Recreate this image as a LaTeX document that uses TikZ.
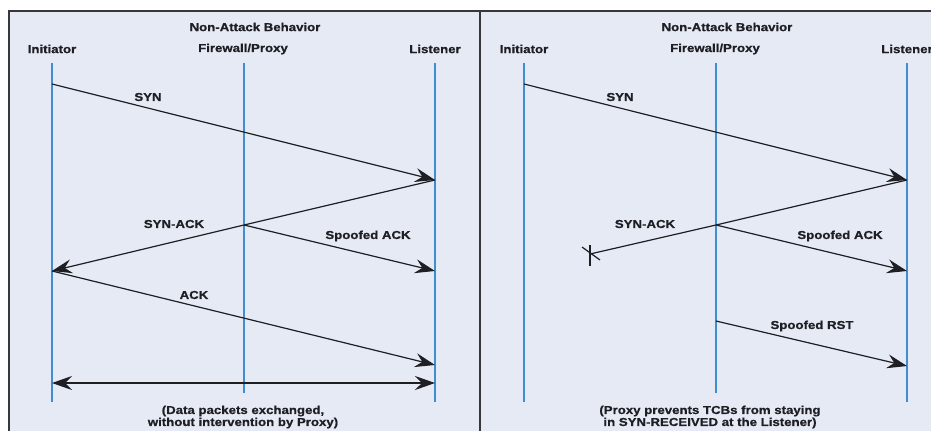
\documentclass[tikz,border=0pt]{standalone}
\usepackage{fontspec}
\setmainfont{Liberation Sans}[FakeStretch=1.15, BoldFeatures={FakeBold=0.7}]
\usetikzlibrary{arrows.meta}

\definecolor{panelbg}{RGB}{229,234,245}
\definecolor{lifeblue}{RGB}{62,142,208}
\definecolor{framegray}{RGB}{55,55,60}
\definecolor{inkgray}{RGB}{30,30,35}

\begin{document}
\begin{tikzpicture}[
    x=1pt, y=-1pt,
    >={Stealth[length=20pt,width=14pt,inset=7pt]},
    every node/.style={font=\fontsize{11.5}{12}\selectfont\bfseries, text=inkgray, inner sep=0pt},
    caption/.style={align=center},
    lifeline/.style={draw=lifeblue, line width=2pt},
    frame/.style={draw=framegray, line width=1.4pt},
    msg/.style={->, draw=inkgray, line width=1.2pt},
    dmsg/.style={<->, draw=inkgray, line width=1.2pt},
    lost/.style={draw=inkgray, line width=1.2pt}
]

\useasboundingbox (0,0) rectangle (931,431);
\clip (0,0) rectangle (931,431);

% --- Background and frame ---
\fill[panelbg] (9,11) rectangle (940,431);
\draw[frame] (9,431) -- (9,11) -- (940,11);
\draw[frame] (480,11) -- (480,431);

% --- Headings and lifelines of both panels ---
\foreach \p/\dx in {L/0, R/472} {
    \node (title\p) at (255+\dx,27) {Non-Attack Behavior};
    \node (ini\p) at (52+\dx,49) {Initiator};
    \node (fw\p) at (243+\dx,49) {Firewall/Proxy};
    \node (lis\p) at (435+\dx,49) {Listener};
    \coordinate (ini\p top) at (52+\dx,63);
    \coordinate (ini\p bot) at (52+\dx,402);
    \coordinate (fw\p top) at (244+\dx,63);
    \coordinate (fw\p bot) at (244+\dx,393);
    \coordinate (lis\p top) at (435+\dx,63);
    \coordinate (lis\p bot) at (435+\dx,402);
    \draw[lifeline] (ini\p top) -- (ini\p bot);
    \draw[lifeline] (fw\p top) -- (fw\p bot);
    \draw[lifeline] (lis\p top) -- (lis\p bot);
}

% --- Left panel: events ---
\coordinate (synL) at (52,84);
\coordinate (synackL) at (435,180);
\coordinate (proxyL) at (244,225);
\coordinate (backL) at (52,271);
\coordinate (sackL) at (435,271);
\coordinate (ackL) at (435,365);
\coordinate (dataLa) at (52,383);
\coordinate (dataLb) at (435,383);

\draw[msg] (synL) -- (synackL);
\draw[msg] (synackL) -- (proxyL) -- (backL);
\draw[msg] (proxyL) -- (sackL);
\draw[msg] (backL) -- (ackL);
\draw[dmsg] (dataLa) -- (dataLb);

\node (synLlbl) at (148,97) {SYN};
\node (synackLlbl) at (174,224) {SYN-ACK};
\node (sackLlbl) at (368,236) {Spoofed ACK};
\node (ackLlbl) at (194,295) {ACK};
\node[caption] (capL) at (243,417) {(Data packets exchanged,\\without intervention by Proxy)};

% --- Right panel: events ---
\coordinate (synR) at (524,84);
\coordinate (synackR) at (907,180);
\coordinate (proxyR) at (716,225);
\coordinate (dropR) at (590,254);
\coordinate (sackR) at (907,271);
\coordinate (rstR) at (716,321);
\coordinate (rstendR) at (907,366);

\draw[msg] (synR) -- (synackR);
\draw[lost] (synackR) -- (proxyR) -- (dropR);
\draw[lost] (dropR) ++(0,-9) -- ++(0,21);
\draw[lost] (dropR) ++(-8,-7) -- ++(18,13);
\draw[msg] (proxyR) -- (sackR);
\draw[msg] (rstR) -- (rstendR);

\node (synRlbl) at (620,97) {SYN};
\node (synackRlbl) at (645,224) {SYN-ACK};
\node (sackRlbl) at (840,236) {Spoofed ACK};
\node (rstRlbl) at (812,326) {Spoofed RST};
\node[caption] (capR) at (710,417) {(Proxy prevents TCBs from staying\\in SYN-RECEIVED at the Listener)};

\end{tikzpicture}
\end{document}
